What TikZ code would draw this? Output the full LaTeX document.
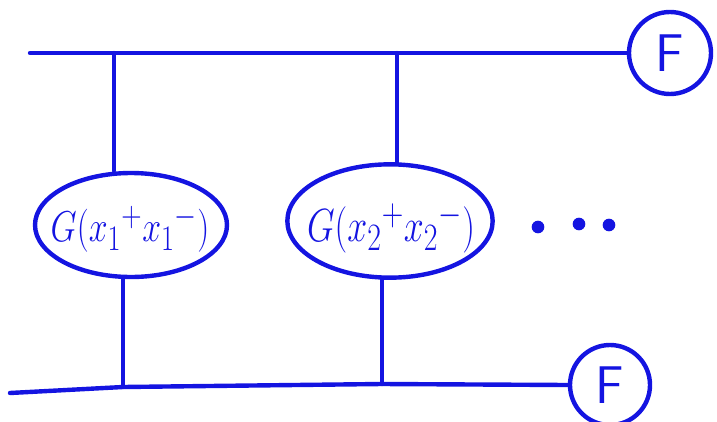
\documentclass[tikz,border=0pt]{standalone}
\usepackage{graphicx}
\usetikzlibrary{shapes.geometric}
\definecolor{ink}{RGB}{20,20,225}
\begin{document}
\begin{tikzpicture}[x=0.75pt,y=-0.75pt,
  pen/.style={draw=ink,line width=3.3pt,line cap=round,line join=round},
  gbox/.style={pen,ellipse,inner sep=0pt},
  gtext/.style={text=ink,inner sep=0pt,font=\Huge},
  fcirc/.style={pen,circle,inner sep=0pt,text=ink,font=\Huge\sffamily},
  dot/.style={circle,fill=ink,inner sep=0pt,minimum size=9.5pt}]
\useasboundingbox (0,0) rectangle (717,421);
% nodes
\node[gbox,minimum width=144pt,minimum height=78pt] (g1) at (131,225) {};
\node[gtext] (l1) at (130,229) {\scalebox{1.02}[1.3]{$G(x_1{}^{+}x_1{}^{-})$}};
\node[gbox,minimum width=154pt,minimum height=85pt] (g2) at (390,221) {};
\node[gtext] (l2) at (391,228) {\scalebox{1.08}[1.4]{$G(x_2{}^{+}x_2{}^{-})$}};
\node[fcirc,minimum size=61.5pt] (f1) at (670,53) {\scalebox{1.6}{F}};
\node[fcirc,minimum size=60pt] (f2) at (610,385) {\scalebox{1.6}{F}};
\node[dot] (d1) at (538,227) {};
\node[dot] (d2) at (579,224) {};
\node[dot] (d3) at (609,225) {};
% line ends and junctions
\coordinate (t0) at (30,53);
\coordinate (t1) at (114,53);
\coordinate (t2) at (397,53);
\coordinate (b0) at (10,393);
\coordinate (b1) at (123,387);
\coordinate (b2) at (382,384);
% lines
\draw[pen] (t0) -- (f1.west);
\draw[pen] (b0) -- (b1) -- (b2) -- (f2.west);
\draw[pen] (t1) -- (g1.north -| t1);
\draw[pen] (g1.south -| b1) -- (b1);
\draw[pen] (t2) -- (g2.north -| t2);
\draw[pen] (g2.south -| b2) -- (b2);
\end{tikzpicture}
\end{document}
